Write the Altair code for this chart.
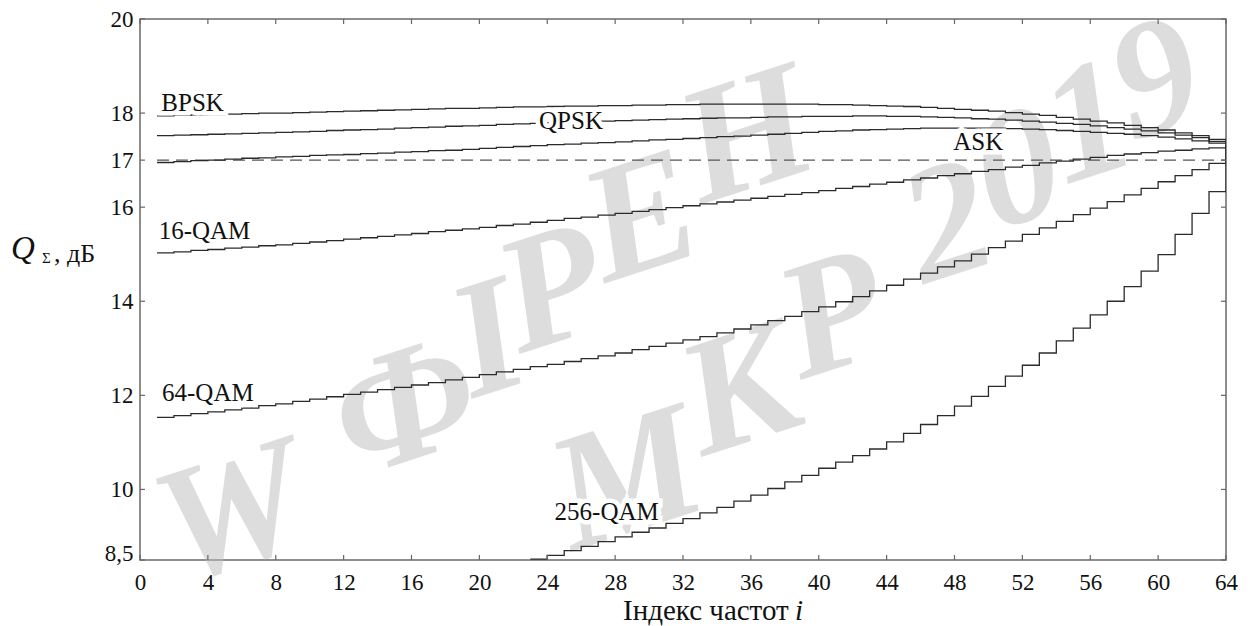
import altair as alt
import pandas as pd

# Frequency index of each subcarrier
idx = list(range(1, 65))

bpsk = [17.94, 17.95, 17.96, 17.97, 17.98, 17.99, 18.00, 18.00, 18.01, 18.02,
        18.03, 18.04, 18.05, 18.06, 18.07, 18.08, 18.09, 18.10, 18.10, 18.11,
        18.12, 18.13, 18.13, 18.14, 18.15, 18.15, 18.16, 18.16, 18.17, 18.17,
        18.18, 18.18, 18.19, 18.19, 18.19, 18.19, 18.19, 18.19, 18.19, 18.18,
        18.18, 18.17, 18.16, 18.15, 18.14, 18.12, 18.10, 18.08, 18.06, 18.04,
        18.01, 17.98, 17.95, 17.91, 17.87, 17.83, 17.79, 17.74, 17.69, 17.64,
        17.58, 17.52, 17.44, 17.37]

qpsk = [17.52, 17.53, 17.54, 17.55, 17.56, 17.57, 17.58, 17.59, 17.60, 17.61,
        17.63, 17.64, 17.65, 17.66, 17.68, 17.69, 17.70, 17.72, 17.73, 17.74,
        17.76, 17.77, 17.78, 17.79, 17.81, 17.82, 17.83, 17.84, 17.85, 17.86,
        17.87, 17.88, 17.89, 17.90, 17.90, 17.91, 17.92, 17.92, 17.93, 17.93,
        17.93, 17.94, 17.94, 17.93, 17.93, 17.92, 17.91, 17.90, 17.88, 17.87,
        17.85, 17.83, 17.81, 17.78, 17.76, 17.73, 17.69, 17.66, 17.62, 17.58,
        17.53, 17.48, 17.40, 17.35]

ask = [16.95, 16.97, 16.99, 17.00, 17.02, 17.04, 17.05, 17.07, 17.08, 17.10,
       17.11, 17.12, 17.14, 17.15, 17.17, 17.18, 17.20, 17.21, 17.23, 17.25,
       17.27, 17.29, 17.31, 17.33, 17.34, 17.36, 17.37, 17.39, 17.41, 17.43,
       17.44, 17.46, 17.48, 17.50, 17.51, 17.53, 17.55, 17.57, 17.59, 17.61,
       17.62, 17.64, 17.65, 17.66, 17.67, 17.68, 17.68, 17.68, 17.68, 17.68,
       17.67, 17.66, 17.65, 17.63, 17.61, 17.59, 17.57, 17.55, 17.52, 17.49,
       17.45, 17.41, 17.36, 17.33]

qam16 = [15.03, 15.05, 15.08, 15.10, 15.13, 15.15, 15.18, 15.20, 15.23, 15.26,
         15.29, 15.32, 15.35, 15.38, 15.41, 15.44, 15.48, 15.51, 15.54, 15.57,
         15.61, 15.64, 15.68, 15.72, 15.76, 15.79, 15.83, 15.87, 15.91, 15.95,
         15.99, 16.03, 16.07, 16.11, 16.15, 16.19, 16.23, 16.27, 16.31, 16.35,
         16.40, 16.44, 16.49, 16.53, 16.58, 16.62, 16.67, 16.71, 16.76, 16.80,
         16.85, 16.89, 16.94, 16.98, 17.02, 17.06, 17.10, 17.13, 17.16, 17.19,
         17.21, 17.24, 17.26, 17.31]

qam64 = [11.53, 11.57, 11.61, 11.65, 11.69, 11.73, 11.78, 11.82, 11.87, 11.92,
         11.97, 12.02, 12.07, 12.12, 12.17, 12.22, 12.27, 12.33, 12.38, 12.44,
         12.50, 12.55, 12.61, 12.66, 12.72, 12.78, 12.84, 12.90, 12.97, 13.04,
         13.11, 13.18, 13.25, 13.33, 13.41, 13.50, 13.59, 13.68, 13.78, 13.88,
         13.99, 14.10, 14.22, 14.34, 14.47, 14.60, 14.73, 14.86, 15.00, 15.14,
         15.28, 15.42, 15.56, 15.70, 15.84, 15.98, 16.12, 16.26, 16.40, 16.54,
         16.67, 16.80, 16.93, 17.33]

# 256-QAM is below the axis floor up to i = 22
idx256 = list(range(23, 65))
qam256 = [8.52, 8.60, 8.70, 8.79, 8.89, 8.99, 9.09, 9.18, 9.28, 9.38,
          9.50, 9.62, 9.75, 9.88, 10.02, 10.16, 10.30, 10.45, 10.58, 10.72,
          10.86, 11.01, 11.19, 11.38, 11.57, 11.77, 11.98, 12.19, 12.41, 12.64,
          12.90, 13.16, 13.43, 13.71, 14.00, 14.31, 14.64, 14.99, 15.42, 15.87,
          16.33, 17.33]

threshold_i = [1, 64]
threshold_q = [17.0, 17.0]

x_ticks = list(range(0, 65, 4))
y_ticks = [8.5, 10, 12, 14, 16, 17, 18, 20]

label_text = ["BPSK", "QPSK", "ASK", "16-QAM", "64-QAM", "256-QAM"]
label_i = [3.1, 25.4, 49.4, 3.8, 4.0, 27.5]
label_q = [18.22, 17.84, 17.38, 15.49, 12.05, 9.53]

# watermark glyphs, laid out one by one along two diagonals
wm_chars = ["W", "Ф", "І", "Р", "Е", "Н", "М", "К", "Р", "2", "0", "1", "9"]
wm_px = [92, 266, 348, 412, 502, 607, 487, 600, 693, 808, 878, 948, 1016]
wm_py = [496, 390, 322, 272, 200, 118, 462, 373, 298, 205, 152, 106, 62]

FONT = "Liberation Serif"
INK = "#2b2b2b"
W, H = 1086, 541

series = {"BPSK": (idx, bpsk), "QPSK": (idx, qpsk), "ASK": (idx, ask),
          "16-QAM": (idx, qam16), "64-QAM": (idx, qam64), "256-QAM": (idx256, qam256)}
rows = []
for name, (xs_, ys_) in series.items():
    rows += [{"series": name, "i": a, "q": b} for a, b in zip(xs_, ys_)]
curves = pd.DataFrame(rows)

xs = alt.Scale(domain=[0, 64], nice=False, zero=False)
ys = alt.Scale(domain=[8.5, 20], nice=False, zero=False)

x_axis = alt.Axis(values=x_ticks, ticks=False, domain=False, grid=False,
                  labelFont=FONT, labelFontSize=23, labelColor="#111",
                  labelPadding=11, title=None, labelFlush=False)
y_axis = alt.Axis(values=y_ticks, ticks=False, domain=False, grid=False,
                  labelFont=FONT, labelFontSize=23, labelColor="#111",
                  labelPadding=7, title=None, labelFlush=False,
                  labelExpr="datum.value == 8.5 ? '8,5' : datum.label",
                  labelBaseline={"condition": {"test": "datum.value == 8.5", "value": "alphabetic"},
                                 "value": "middle"})

one = pd.DataFrame({"k": [0]})

# translucent watermark: greys out axis labels beneath it, curves stay on top
watermark = alt.Chart(pd.DataFrame({"t": wm_chars, "px": wm_px, "py": wm_py})).mark_text(
    font=FONT, fontSize=165, fontWeight="bold", fontStyle="italic",
    color="#bcbcbc", opacity=0.5, angle=342, align="center", baseline="middle", clip=False
).encode(text="t:N", x=alt.X("px:Q", scale=None), y=alt.Y("py:Q", scale=None))

lines = alt.Chart(curves).mark_line(
    interpolate="step-after", color=INK, strokeWidth=1.3, clip=True
).encode(
    x=alt.X("i:Q", scale=xs, axis=x_axis),
    y=alt.Y("q:Q", scale=ys, axis=y_axis),
    detail="series:N",
)

dashed = alt.Chart(pd.DataFrame({"i": threshold_i, "q": threshold_q})).mark_line(
    color="#555", strokeWidth=1.3, strokeDash=[12, 7]
).encode(x=alt.X("i:Q", scale=xs), y=alt.Y("q:Q", scale=ys))

labels_df = pd.DataFrame({"t": label_text, "i": label_i, "q": label_q})
halo = alt.Chart(labels_df).mark_text(
    font=FONT, fontSize=25, color="white", stroke="white", strokeWidth=9,
    align="center", baseline="middle"
).encode(x=alt.X("i:Q", scale=xs), y=alt.Y("q:Q", scale=ys), text="t:N")
labels = alt.Chart(labels_df).mark_text(
    font=FONT, fontSize=25, color="#111", align="center", baseline="middle"
).encode(x=alt.X("i:Q", scale=xs), y=alt.Y("q:Q", scale=ys), text="t:N")

# inward ticks on all four sides of the frame
xt = pd.DataFrame({"i": x_ticks})
yt = pd.DataFrame({"q": y_ticks})
tick_style = dict(color="#666", strokeWidth=1.2)
t_bottom = alt.Chart(xt).mark_rule(**tick_style).encode(
    x=alt.X("i:Q", scale=xs), y=alt.value(H), y2=alt.value(H - 5))
t_top = alt.Chart(xt).mark_rule(**tick_style).encode(
    x=alt.X("i:Q", scale=xs), y=alt.value(0), y2=alt.value(5))
t_left = alt.Chart(yt).mark_rule(**tick_style).encode(
    y=alt.Y("q:Q", scale=ys), x=alt.value(0), x2=alt.value(5))
t_right = alt.Chart(yt).mark_rule(**tick_style).encode(
    y=alt.Y("q:Q", scale=ys), x=alt.value(W), x2=alt.value(W - 5))

# axis titles
x_title = alt.Chart(one).mark_text(
    font=FONT, fontSize=29, color="#111", align="left", baseline="alphabetic"
).encode(x=alt.value(483), y=alt.value(601), text=alt.value("Індекс частот"))
x_title_i = alt.Chart(one).mark_text(
    font=FONT, fontSize=29, fontStyle="italic", color="#111", align="left", baseline="alphabetic"
).encode(x=alt.value(655), y=alt.value(601), text=alt.value("i"))
y_title_q = alt.Chart(one).mark_text(
    font=FONT, fontSize=33, fontStyle="italic", color="#111", align="left", baseline="alphabetic"
).encode(x=alt.value(-129), y=alt.value(240), text=alt.value("Q"))
y_title_s = alt.Chart(one).mark_text(
    font=FONT, fontSize=15, color="#111", align="left", baseline="alphabetic"
).encode(x=alt.value(-98), y=alt.value(244), text=alt.value("Σ"))
y_title_u = alt.Chart(one).mark_text(
    font=FONT, fontSize=26, color="#111", align="left", baseline="alphabetic"
).encode(x=alt.value(-86), y=alt.value(243), text=alt.value(", дБ"))

chart = alt.layer(
    watermark, dashed, lines, halo, labels,
    t_bottom, t_top, t_left, t_right,
    x_title, x_title_i, y_title_q, y_title_s, y_title_u,
).properties(
    width=W, height=H,
    autosize=alt.AutoSizeParams(type="none"),
    padding={"left": 140, "top": 19, "right": 30, "bottom": 66},
    background="white",
).configure_view(stroke="#6a6a6a", strokeWidth=1.5)

chart.save("out.html", embed_options={"renderer": "svg", "actions": False})
